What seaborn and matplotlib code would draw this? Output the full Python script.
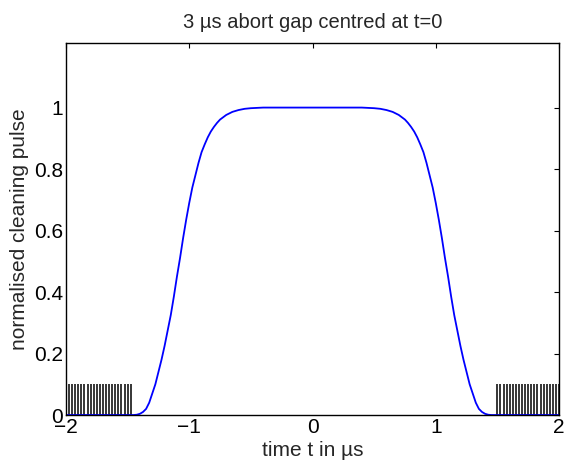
import pandas as pd
import matplotlib
matplotlib.use('Agg')
import matplotlib.pyplot as plt
import seaborn as sns

# cleaning pulse (rising edge, flat top, falling edge)
t_rise = [-2.000, -1.450, -1.425, -1.400, -1.375, -1.350, -1.325, -1.300, -1.275,
          -1.250, -1.225, -1.200, -1.175, -1.150, -1.125, -1.100, -1.075, -1.050,
          -1.025, -1.000, -0.975, -0.950, -0.925, -0.900, -0.875, -0.850, -0.825,
          -0.800, -0.775, -0.750, -0.700, -0.650, -0.600, -0.550, -0.500, -0.400]
p_rise = [0.0, 0.0, 0.001, 0.004, 0.01, 0.02, 0.04, 0.07, 0.10,
          0.14, 0.18, 0.225, 0.275, 0.325, 0.385, 0.45, 0.51, 0.575,
          0.635, 0.69, 0.74, 0.78, 0.82, 0.855, 0.88, 0.903, 0.922,
          0.937, 0.95, 0.961, 0.976, 0.986, 0.992, 0.996, 0.998, 1.0]
t_top = [0.0]
p_top = [1.0]
t_fall = [0.400, 0.500, 0.550, 0.600, 0.650, 0.700, 0.750, 0.775, 0.800,
          0.825, 0.850, 0.875, 0.900, 0.925, 0.950, 0.975, 1.000, 1.025,
          1.050, 1.075, 1.100, 1.125, 1.150, 1.175, 1.200, 1.225, 1.250,
          1.275, 1.300, 1.325, 1.350, 1.375, 1.400, 1.425, 1.450, 2.000]
p_fall = [1.0, 0.998, 0.996, 0.992, 0.986, 0.976, 0.961, 0.95, 0.937,
          0.922, 0.903, 0.88, 0.855, 0.82, 0.78, 0.74, 0.69, 0.635,
          0.575, 0.51, 0.45, 0.385, 0.325, 0.275, 0.225, 0.18, 0.14,
          0.10, 0.07, 0.04, 0.02, 0.01, 0.004, 0.001, 0.0, 0.0]

# bunch positions (25 ns spacing) either side of the gap
bunches_left = [-2.000, -1.975, -1.950, -1.925, -1.900, -1.875, -1.850, -1.825,
                -1.800, -1.775, -1.750, -1.725, -1.700, -1.675, -1.650, -1.625,
                -1.600, -1.575, -1.550, -1.525, -1.500, -1.475]
bunches_right = [1.500, 1.525, 1.550, 1.575, 1.600, 1.625, 1.650, 1.675,
                 1.700, 1.725, 1.750, 1.775, 1.800, 1.825, 1.850, 1.875,
                 1.900, 1.925, 1.950, 1.975, 2.000]
bunch_height = 0.1

x_ticks = [-2, -1, 0, 1, 2]
x_labels = ['\u22122', '\u22121', '0', '1', '2']
y_ticks = [0, 0.2, 0.4, 0.6, 0.8, 1.0]
y_labels = ['0', '0.2', '0.4', '0.6', '0.8', '1']

sns.set_style('white')
plt.rcParams['font.family'] = ['Liberation Sans', 'DejaVu Sans']

fig = plt.figure(figsize=(5.67, 4.62), dpi=100)
ax = fig.add_axes([0.1164, 0.1017, 0.8695, 0.8052])

df = pd.DataFrame({'t': t_rise + t_top + t_fall,
                   'pulse': p_rise + p_top + p_fall})
ax.vlines(bunches_left + bunches_right, 0, bunch_height, color='black', lw=1.1)
sns.lineplot(data=df, x='t', y='pulse', color='blue', lw=1.3, ax=ax)

ax.set_xlim(-2, 2)
ax.set_ylim(0, 1.21)
ax.set_xticks(x_ticks)
ax.set_xticklabels(x_labels)
ax.set_yticks(y_ticks)
ax.set_yticklabels(y_labels)
ax.tick_params(direction='in', top=True, right=True, length=3.5, width=0.8,
               labelsize=15, pad=2, colors='black')
for s in ax.spines.values():
    s.set_linewidth(1.0)
    s.set_color('black')

ax.set_title('3 \u00b5s abort gap centred at t=0', fontsize=14.5, pad=11)
ax.set_xlabel('time t in \u00b5s', fontsize=15, labelpad=3)
ax.set_ylabel('normalised cleaning pulse', fontsize=15, labelpad=4)

fig.savefig('out.png', dpi=100)
